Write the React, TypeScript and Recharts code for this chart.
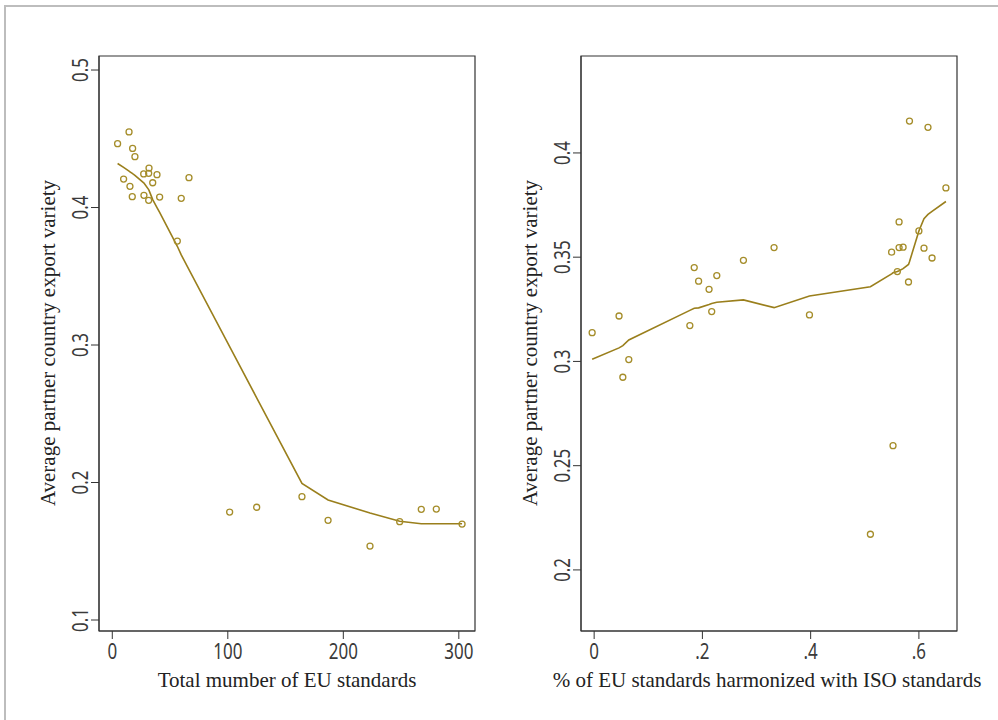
import React from "react"
import { ScatterChart, Scatter, XAxis, YAxis, ReferenceArea } from "recharts"

// left panel: total number of EU standards vs export variety
const totalStandards = [4.6, 9.8, 14.5, 15.3, 17.3, 17.6, 19.6, 27.2, 27.4, 31.5, 31.5, 31.8, 35, 38.7, 41, 56.3, 59.7, 66.4, 101.6, 125, 164.2, 186.8, 223.1, 248.8, 267.5, 280.5, 302.8]
const varietyByTotal = [0.4464, 0.4207, 0.455, 0.4154, 0.4079, 0.443, 0.437, 0.4244, 0.4089, 0.4249, 0.4052, 0.4287, 0.418, 0.4239, 0.4076, 0.3756, 0.4067, 0.4217, 0.1785, 0.182, 0.1897, 0.1725, 0.1538, 0.1715, 0.1805, 0.1807, 0.1698]
const fitTotalX = [4.6, 9.8, 14.5, 15.3, 17.3, 17.6, 19.6, 27.2, 27.4, 31.5, 31.8, 35, 38.7, 41, 56.3, 59.7, 66.4, 101.6, 125, 164.2, 186.8, 223.1, 248.8, 267.5, 280.5, 302.8]
const fitTotalY = [0.432, 0.4292, 0.4265, 0.426, 0.4248, 0.4246, 0.4234, 0.418, 0.4178, 0.413, 0.4125, 0.4058, 0.4, 0.3965, 0.3718, 0.3655, 0.3548, 0.2988, 0.2616, 0.1993, 0.1873, 0.1778, 0.1718, 0.17, 0.17, 0.17]

// right panel: share harmonized with ISO vs export variety
const isoShare = [-0.0037, 0.046, 0.053, 0.064, 0.1768, 0.1849, 0.193, 0.2123, 0.2172, 0.2266, 0.2758, 0.3324, 0.3978, 0.5104, 0.5496, 0.5522, 0.5602, 0.5634, 0.5634, 0.5708, 0.5808, 0.5826, 0.6, 0.6094, 0.6168, 0.6243, 0.6499]
const varietyByIso = [0.3138, 0.3218, 0.2924, 0.3009, 0.3172, 0.345, 0.3385, 0.3346, 0.3239, 0.3412, 0.3485, 0.3546, 0.3223, 0.2171, 0.3524, 0.2596, 0.3431, 0.3669, 0.3546, 0.3548, 0.3381, 0.4153, 0.3626, 0.3543, 0.4123, 0.3496, 0.3832]
const fitIsoX = [-0.0037, 0.046, 0.053, 0.064, 0.1768, 0.1849, 0.193, 0.2123, 0.2172, 0.2266, 0.2758, 0.3324, 0.3978, 0.5104, 0.5496, 0.5522, 0.5602, 0.5634, 0.5708, 0.5808, 0.5826, 0.6, 0.6094, 0.6168, 0.6243, 0.6499]
const fitIsoY = [0.301, 0.3065, 0.3076, 0.3103, 0.3245, 0.3255, 0.3257, 0.3273, 0.3278, 0.3284, 0.3295, 0.3258, 0.3314, 0.3358, 0.342, 0.3425, 0.3431, 0.3435, 0.3445, 0.3465, 0.3478, 0.3626, 0.3685, 0.3705, 0.372, 0.3767]

const leftXTicks = [0, 100, 200, 300]
const leftYTicks = [0.1, 0.2, 0.3, 0.4, 0.5]
const rightXTicks = [0, 0.2, 0.4, 0.6]
const rightXLabels = ["0", ".2", ".4", ".6"]
const rightYTicks = [0.2, 0.25, 0.3, 0.35, 0.4]

const yTitle = "Average partner country export variety"
const leftXTitle = "Total mumber of EU standards"
const rightXTitle = "% of EU standards harmonized with ISO standards"

const zip = (xs: number[], ys: number[]) => xs.map((x, i) => ({ x, y: ys[i] }))

const DOT = "#a58d2a"
const FIT = "#9a7f1c"
const AXIS = "#333"
const LABEL = "#3a3a3a"

const Ring = (p: any) => <circle cx={p.cx} cy={p.cy} r={3} fill="none" stroke={DOT} strokeWidth={1.3} />
const NoDot = () => <g />

const YTick = (p: any) => (
  <g transform={`translate(${p.x - 3},${p.y}) rotate(-90) scale(0.77,1)`}>
    <text x={0} y={0} textAnchor="middle" fontFamily="Noto Sans" fontSize={22} fill={LABEL}>
      {String(p.payload.value)}
    </text>
  </g>
)

const makeXTick = (fmt: (v: number) => string) => (p: any) => (
  <g transform={`translate(${p.x},${p.y + 20}) scale(0.77,1)`}>
    <text x={0} y={0} textAnchor="middle" fontFamily="Noto Sans" fontSize={22} fill={LABEL}>
      {fmt(p.payload.value)}
    </text>
  </g>
)

interface PanelProps {
  left: number
  width: number
  points: { x: number; y: number }[]
  fit: { x: number; y: number }[]
  xDomain: [number, number]
  yDomain: [number, number]
  xTicks: number[]
  yTicks: number[]
  xFmt: (v: number) => string
}

function Panel({ left, width, points, fit, xDomain, yDomain, xTicks, yTicks, xFmt }: PanelProps) {
  return (
    <div style={{ position: "absolute", left, top: 0 }}>
      <ScatterChart width={width} height={720} margin={{ top: 56, right: width - 475, bottom: 0, left: 0 }}>
        <XAxis
          type="number"
          dataKey="x"
          domain={xDomain}
          ticks={xTicks}
          allowDataOverflow
          height={89}
          tickSize={8}
          tickMargin={0}
          stroke={AXIS}
          tick={makeXTick(xFmt)}
        />
        <YAxis
          type="number"
          dataKey="y"
          domain={yDomain}
          ticks={yTicks}
          allowDataOverflow
          width={99}
          tickSize={8}
          tickMargin={0}
          stroke={AXIS}
          tick={YTick}
        />
        <ReferenceArea x1={xDomain[0]} x2={xDomain[1]} y1={yDomain[0]} y2={yDomain[1]} fill="none" stroke={AXIS} strokeWidth={1.2} />
        <Scatter data={fit} line={{ stroke: FIT, strokeWidth: 1.6 }} shape={NoDot} isAnimationActive={false} />
        <Scatter data={points} shape={Ring} isAnimationActive={false} />
      </ScatterChart>
    </div>
  )
}

export default function App() {
  const title = { fontFamily: "Liberation Serif", fontSize: 21, fill: "#222" }
  return (
    <div style={{ position: "absolute", left: 0, top: 0, width: 998, height: 720, background: "#fff", overflow: "hidden" }}>
      <div style={{ position: "absolute", left: 4, top: 5, right: -10, bottom: -10, borderTop: "2px solid #bdbdbd", borderLeft: "2px solid #bdbdbd" }} />
      <Panel
        left={0}
        width={500}
        points={zip(totalStandards, varietyByTotal)}
        fit={zip(fitTotalX, fitTotalY)}
        xDomain={[-11.5, 314]}
        yDomain={[0.092, 0.5102]}
        xTicks={leftXTicks}
        yTicks={leftYTicks}
        xFmt={(v) => String(v)}
      />
      <Panel
        left={482}
        width={516}
        points={zip(isoShare, varietyByIso)}
        fit={zip(fitIsoX, fitIsoY)}
        xDomain={[-0.0243, 0.6704]}
        yDomain={[0.1707, 0.4465]}
        xTicks={rightXTicks}
        yTicks={rightYTicks}
        xFmt={(v) => rightXLabels[rightXTicks.indexOf(v)] ?? String(v)}
      />
      <svg width={998} height={720} style={{ position: "absolute", left: 0, top: 0, pointerEvents: "none" }}>
        <text x={287} y={687} textAnchor="middle" {...title}>{leftXTitle}</text>
        <text x={767} y={687} textAnchor="middle" {...title}>{rightXTitle}</text>
        <text x={55} y={343} textAnchor="middle" transform="rotate(-90, 55, 343)" {...title}>{yTitle}</text>
        <text x={537} y={343} textAnchor="middle" transform="rotate(-90, 537, 343)" {...title}>{yTitle}</text>
      </svg>
    </div>
  )
}
